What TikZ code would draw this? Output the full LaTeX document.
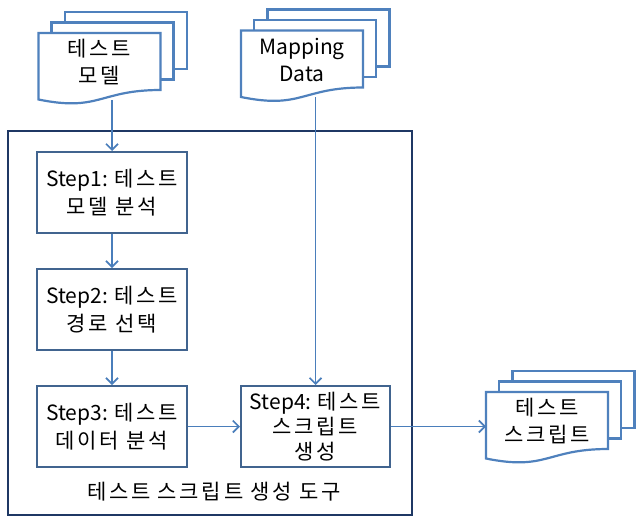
\documentclass[tikz,border=0pt]{standalone}
\usepackage{fontspec}
\setmainfont{Noto Sans CJK KR}
\newfontfamily\hg[LetterSpace=13]{Noto Sans CJK KR}
\usetikzlibrary{arrows.meta}

\definecolor{docblue}{HTML}{4F81BD}
\definecolor{stepblue}{HTML}{41648F}
\definecolor{arrowblue}{HTML}{4A7EBB}
\definecolor{toolnavy}{HTML}{1F3864}

\tikzset{
  page/.style={draw=docblue, line width=2.2pt, fill=white, line join=miter},
  stepbox/.style={draw=stepblue, line width=2pt, fill=white, minimum width=150pt,
    minimum height=81pt, inner sep=0pt, align=center, font=\fontsize{21}{28}\selectfont},
  doctext/.style={align=center, font=\fontsize{21}{27}\selectfont, inner sep=0pt},
  flow/.style={draw=arrowblue, line width=1.7pt,
    -{Straight Barb[length=6pt,width=12pt,line width=1.7pt]}},
}

% stacked document icon: #1 name, #2 left x, #3 top y, #4 label
\newcommand{\docstack}[4]{%
  \begin{scope}[shift={(#2,#3)}]
    \draw[page] (26.5,-21) rectangle (148.5,36);
    \draw[page] (13,-10.5) rectangle (135,46.5);
    \draw[page] (0,0) -- (122,0) -- (122,57)
      .. controls (61,57) and (61,79) .. (0,66.5) -- cycle;
    \coordinate (#1-bottom) at (61,67);
    \coordinate (#1-left) at (0,35);
    \node[doctext] (#1) at (61,29) {#4};
  \end{scope}}

\begin{document}
\begin{tikzpicture}[x=1pt, y=-1pt]
  \useasboundingbox (0,0) rectangle (636,516);

  % tool frame
  \draw[draw=toolnavy, line width=2pt] (8,131) rectangle (412,514.5);
  \node[font=\fontsize{21}{27}\selectfont, inner sep=0pt] (toolname) at (214,492)
    {\hg 테스트 스크립트 생성 도구};

  % input and output documents
  \docstack{model}{38.5}{33}{\hg 테스트\\\hg 모델}
  \docstack{mapping}{241}{30.5}{Mapping\\Data}
  \docstack{script}{486}{392}{\hg 테스트\\\hg 스크립트}

  % processing steps
  \node[stepbox] (s1) at (112,192.5) {Step1: {\hg 테스트}\\\hg 모델 분석};
  \node[stepbox] (s2) at (112,309.5) {Step2: {\hg 테스트}\\\hg 경로 선택};
  \node[stepbox] (s3) at (112,426.5) {Step3: {\hg 테스트}\\\hg 데이터 분석};
  \node[stepbox, minimum width=149pt, font=\fontsize{21}{25}\selectfont] (s4) at (315.5,426.5)
    {Step4: {\hg 테스트}\\\hg 스크립트\\\hg 생성};

  % connectors
  \draw[flow] (model-bottom -| s1.north) -- (s1.north);
  \draw[flow] (s1) -- (s2);
  \draw[flow] (s2) -- (s3);
  \draw[flow] (mapping-bottom -| s4.north) -- (s4.north);
  \draw[flow] (s3) -- (s4);
  \draw[flow] (s4.east) -- (s4.east -| script-left);
\end{tikzpicture}
\end{document}
